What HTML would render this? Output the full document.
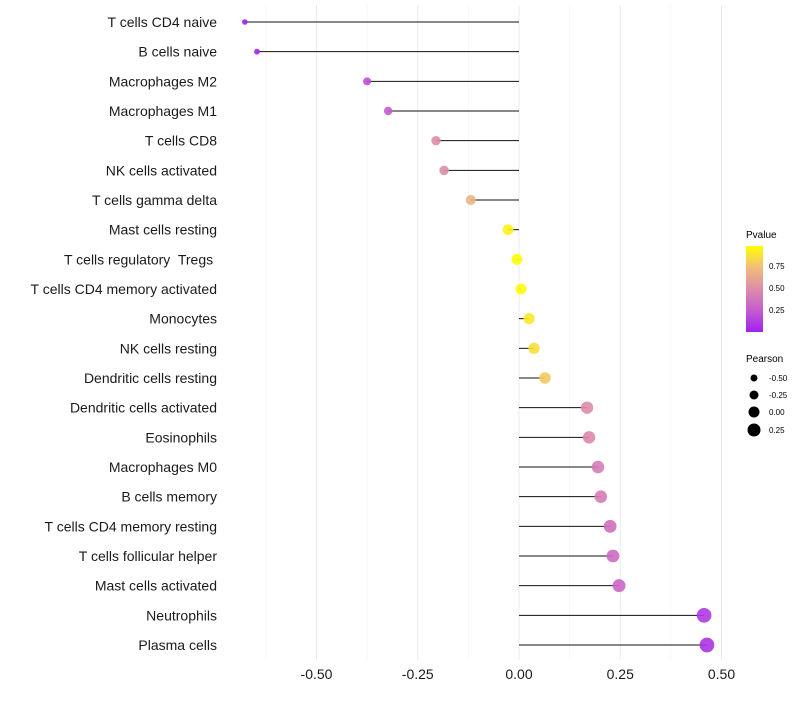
<!DOCTYPE html>
<html><head><meta charset="utf-8"><style>
body{margin:0;background:#fff;font-family:"Liberation Sans",sans-serif}
text{white-space:pre}
</style></head><body>
<svg id="chart" width="800" height="700" xmlns="http://www.w3.org/2000/svg" style="font-family:'Liberation Sans',sans-serif">
<defs><linearGradient id="cg" x1="0" y1="1" x2="0" y2="0">
<stop offset="0" stop-color="#A020F0"/><stop offset="0.25" stop-color="#C55CD0"/><stop offset="0.5" stop-color="#DD8CA9"/><stop offset="0.75" stop-color="#F0BD7B"/><stop offset="1" stop-color="#FFFF00"/></linearGradient></defs>
<g id="grid"></g><g id="marks"></g><g id="labels"></g>
<g>
<text x="746" y="238" font-size="10">Pvalue</text>
<rect x="746" y="246" width="17" height="86" fill="url(#cg)"/>
<g font-size="8"><text x="769" y="269">0.75</text><text x="769" y="291">0.50</text><text x="769" y="313">0.25</text></g>
<text x="746" y="362" font-size="10">Pearson</text>
<g font-size="8"><circle cx="754" cy="378" r="3.5"/><text x="769" y="381">-0.50</text>
<circle cx="754" cy="395" r="4.5"/><text x="769" y="398">-0.25</text>
<circle cx="754" cy="412" r="5.5"/><text x="769" y="415">0.00</text>
<circle cx="754" cy="430" r="6.5"/><text x="769" y="433">0.25</text></g>
</g>
</svg>
<script>
const categories=["T cells CD4 naive","B cells naive","Macrophages M2","Macrophages M1","T cells CD8","NK cells activated","T cells gamma delta","Mast cells resting","T cells regulatory  Tregs ","T cells CD4 memory activated","Monocytes","NK cells resting","Dendritic cells resting","Dendritic cells activated","Eosinophils","Macrophages M0","B cells memory","T cells CD4 memory resting","T cells follicular helper","Mast cells activated","Neutrophils","Plasma cells"];
const pearson=[-0.677,-0.647,-0.375,-0.323,-0.205,-0.185,-0.119,-0.027,-0.005,0.005,0.025,0.037,0.064,0.168,0.173,0.195,0.202,0.225,0.232,0.247,0.457,0.464];
const pvalue=[0.01,0.02,0.2,0.25,0.5,0.5,0.7,0.95,0.99,0.98,0.92,0.88,0.8,0.5,0.48,0.42,0.42,0.35,0.33,0.3,0.1,0.08];
const xTicks=[-0.5,-0.25,0,0.25,0.5];
const xMinor=[-0.625,-0.375,-0.125,0.125,0.375];
const xLabels=["-0.50","-0.25","0.00","0.25","0.50"];
const NS="http://www.w3.org/2000/svg";
function X(v){return 519+v*405;}
function Y(i){return 22+i*(623/21);}
function R(v){return 5.5+v*4;}
const stops=[[0,[160,32,240]],[0.25,[197,92,208]],[0.5,[221,140,169]],[0.75,[240,189,123]],[1,[255,255,0]]];
function col(p){p=Math.max(0,Math.min(1,p));for(let k=0;k<4;k++){const a=stops[k],b=stops[k+1];if(p<=b[0]){const t=(p-a[0])/(b[0]-a[0]);return 'rgb('+a[1].map((c,j)=>Math.round(c+(b[1][j]-c)*t)).join(',')+')';}}return 'rgb(255,255,0)';}
function mk(t,a,parent){const e=document.createElementNS(NS,t);for(const k in a)e.setAttribute(k,a[k]);document.getElementById(parent).appendChild(e);return e;}
xMinor.forEach(v=>{const l=mk('line',{x1:X(v),x2:X(v),y1:5,y2:660,stroke:'#f2f2f2','stroke-width':0.6},'grid');

});
xTicks.forEach((v,i)=>{const l=mk('line',{x1:X(v),x2:X(v),y1:5,y2:660,stroke:'#ebebeb','stroke-width':1},'grid');


const t=mk('text',{x:X(v),y:679,'text-anchor':'middle','font-size':14,fill:'#1a1a1a'},'labels');t.textContent=xLabels[i];

});
categories.forEach((c,i)=>{const y=Y(i);
const s=mk('line',{x1:X(0),x2:X(pearson[i]),y1:y,y2:y,stroke:'#111','stroke-width':1},'marks');


const p=mk('circle',{cx:X(pearson[i]),cy:y,r:R(pearson[i]),fill:col(pvalue[i]),'fill-opacity':0.9},'marks');


const t=mk('text',{x:217,y:y+5,'text-anchor':'end','font-size':14,fill:'#1a1a1a'},'labels');t.textContent=c;

});
</script>
</body></html>
